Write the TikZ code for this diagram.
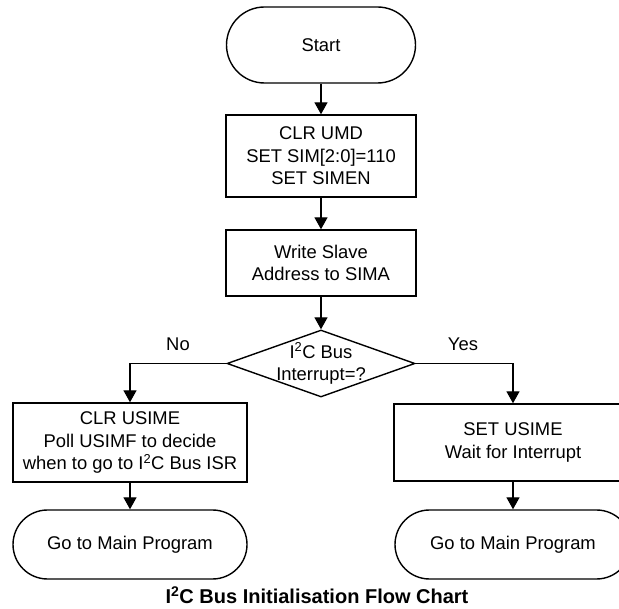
\documentclass[tikz,border=0pt]{standalone}
\usepackage{fontspec}
\setmainfont{Liberation Sans}
\usetikzlibrary{shapes.misc,shapes.geometric,arrows.meta}
\begin{document}
\begin{tikzpicture}[x=1pt,y=-1pt,
  every node/.style={font=\fontsize{18.4}{22.4}\selectfont, align=center},
  term/.style={draw, rounded rectangle, rounded rectangle arc length=180, line width=1.4pt, inner sep=0pt},
  proc/.style={draw, rectangle, line width=1.4pt, inner sep=0pt},
  dec/.style={draw, diamond, line width=1.4pt, inner sep=0pt, minimum width=188pt, minimum height=67pt},
  arr/.style={line width=1.4pt, -{Triangle[length=12pt,width=13pt]}},
  lab/.style={inner sep=0pt}]
\path[use as bounding box, clip] (0,0) rectangle (619,609);
\node[term, minimum width=189pt, minimum height=76pt] (start) at (321,45) {Start};
\node[proc, minimum width=190pt, minimum height=82pt] (b1) at (321,156) {CLR UMD\\SET SIM[2:0]=110\\SET SIMEN};
\node[proc, minimum width=190pt, minimum height=66pt] (b2) at (321,263) {Write Slave\\Address to SIMA};
\node[dec] (d) at (321,363.5) {};
\node[lab] (dt) at (321,363.5) {I\textsuperscript{2}C Bus\\Interrupt=?};
\node[proc, minimum width=234pt, minimum height=79pt] (lb) at (130,442.5) {CLR USIME\\Poll USIMF to decide\\when to go to I\textsuperscript{2}C Bus ISR};
\node[proc, minimum width=238pt, minimum height=77pt] (rb) at (513,442.5) {SET USIME\\Wait for Interrupt};
\node[term, minimum width=234pt, minimum height=69pt] (le) at (130,544.5) {Go to Main Program};
\node[term, minimum width=236pt, minimum height=69pt] (re) at (513,544.5) {Go to Main Program};
\node[lab] (no) at (178,344) {No};
\node[lab] (yes) at (463,344) {Yes};
\node[lab, font=\fontsize{20}{24}\selectfont\bfseries] (title) at (317,595) {I\textsuperscript{2}C Bus Initialisation Flow Chart};
\draw[arr] (start.south) -- (b1.north);
\draw[arr] (b1.south) -- (b2.north);
\draw[arr] (b2.south) -- (d.north);
\draw[arr] (d.west) -| (lb.north);
\draw[arr] (d.east) -| (rb.north);
\draw[arr] (lb.south) -- (le.north);
\draw[arr] (rb.south) -- (re.north);
\end{tikzpicture}
\end{document}
